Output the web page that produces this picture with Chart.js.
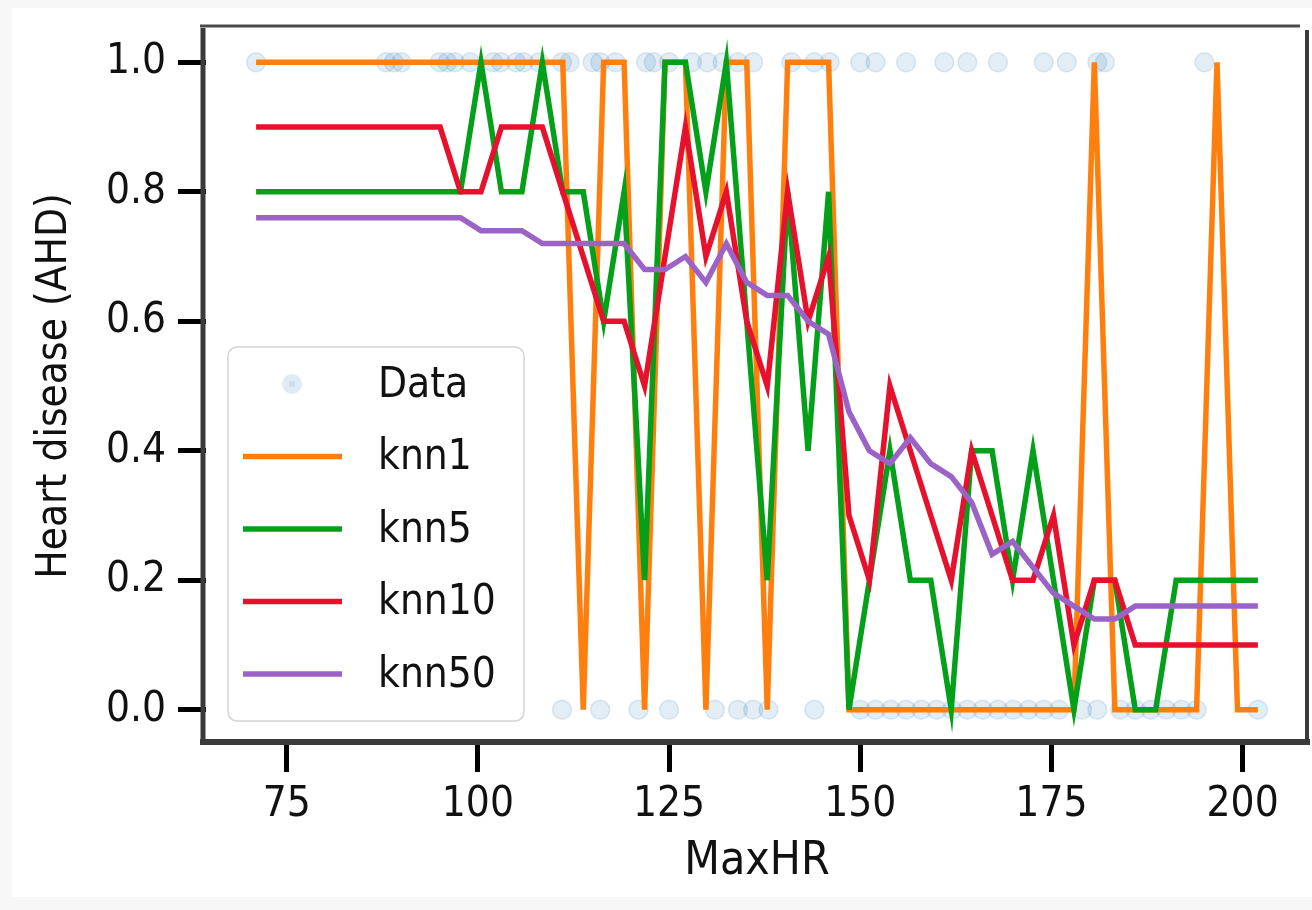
<!DOCTYPE html>
<html>
<head>
<meta charset="utf-8">
<script src="https://cdn.jsdelivr.net/npm/chart.js@4.4.1/dist/chart.umd.min.js"></script>
<style>
  html, body { margin: 0; padding: 0; background: #f7f7f7; }
  canvas { display: block; }
</style>
</head>
<body>
<canvas id="c" width="1312" height="910"></canvas>
<script>
// ---- data ----
const maxHR = [71.00, 73.67, 76.35, 79.02, 81.69, 84.37, 87.04, 89.71, 92.39, 95.06,
               97.73, 100.41, 103.08, 105.76, 108.43, 111.10, 113.78, 116.45, 119.12, 121.80,
               124.47, 127.14, 129.82, 132.49, 135.16, 137.84, 140.51, 143.18, 145.86, 148.53,
               151.20, 153.88, 156.55, 159.22, 161.90, 164.57, 167.24, 169.92, 172.59, 175.27,
               177.94, 180.61, 183.29, 185.96, 188.63, 191.31, 193.98, 196.65, 199.33, 202.00];
const knn1  = [1,1,1,1,1,1,1,1,1,1, 1,1,1,1,1,1,0,1,1,0, 1,1,0,1,1,0,1,1,1,0,
               0,0,0,0,0,0,0,0,0,0, 0,1,0,0,0,0,0,1,0,0];
const knn5  = [0.8,0.8,0.8,0.8,0.8,0.8,0.8,0.8,0.8,0.8, 0.8,1.0,0.8,0.8,1.0,0.8,0.8,0.6,0.8,0.2,
               1.0,1.0,0.8,1.0,0.6,0.2,0.8,0.4,0.8,0.0, 0.2,0.4,0.2,0.2,0.0,0.4,0.4,0.2,0.4,0.2,
               0.0,0.2,0.2,0.0,0.0,0.2,0.2,0.2,0.2,0.2];
const knn10 = [0.9,0.9,0.9,0.9,0.9,0.9,0.9,0.9,0.9,0.9, 0.8,0.8,0.9,0.9,0.9,0.8,0.7,0.6,0.6,0.5,
               0.7,0.9,0.7,0.8,0.6,0.5,0.8,0.6,0.7,0.3, 0.2,0.5,0.4,0.3,0.2,0.4,0.3,0.2,0.2,0.3,
               0.1,0.2,0.2,0.1,0.1,0.1,0.1,0.1,0.1,0.1];
const knn50 = [0.76,0.76,0.76,0.76,0.76,0.76,0.76,0.76,0.76,0.76, 0.76,0.74,0.74,0.74,0.72,0.72,0.72,0.72,0.72,0.68,
               0.68,0.70,0.66,0.72,0.66,0.64,0.64,0.60,0.58,0.46, 0.40,0.38,0.42,0.38,0.36,0.32,0.24,0.26,0.22,0.18,
               0.16,0.14,0.14,0.16,0.16,0.16,0.16,0.16,0.16,0.16];
const dataYesX = [71, 88, 89, 90, 95, 96, 97, 99, 102, 103, 105, 106, 108, 111, 112, 115, 116, 118,
                  122, 123, 125, 128, 130, 132, 134, 136, 141, 144, 146, 150, 152, 156, 161, 164,
                  168, 174, 177, 181, 182, 195];
const dataNoX  = [111, 116, 121, 125, 131, 134, 136, 138, 144, 150, 152, 154, 156, 158, 160, 162,
                  164, 166, 168, 170, 172, 174, 176, 179, 181, 184, 186, 188, 190, 192, 194, 202];
const xTicks = [75, 100, 125, 150, 175, 200];
const yTicks = [0.0, 0.2, 0.4, 0.6, 0.8, 1.0];
const seriesNames = ['Data', 'knn1', 'knn5', 'knn10', 'knn50'];

// ---- styles ----
const FONT = "'DejaVu Sans Condensed', 'DejaVu Sans', sans-serif";
const COLORS = { data: 'rgba(31,119,180,0.13)', knn1: '#ff7f0e', knn5: '#04a01a', knn10: '#e5112d', knn50: '#9b63c6' };

const dataPoints = dataYesX.map(x => ({ x: x, y: 1 })).concat(dataNoX.map(x => ({ x: x, y: 0 })));
const toPts = ys => maxHR.map((x, i) => ({ x: x, y: ys[i] }));

const lineDs = (label, ys, color, order) => ({
  label: label, data: toPts(ys), showLine: true, borderColor: color, backgroundColor: color,
  borderWidth: 5.5, pointRadius: 0, pointHoverRadius: 0, tension: 0, order: order,
  borderJoinStyle: 'miter', borderCapStyle: 'butt'
});

const bgPlugin = {
  id: 'bg',
  beforeDraw(chart) {
    const ctx = chart.ctx;
    ctx.save();
    ctx.fillStyle = '#f7f7f7';
    ctx.fillRect(0, 0, chart.width, chart.height);
    ctx.fillStyle = '#ffffff';
    ctx.fillRect(12, 8, chart.width - 12, 889);
    ctx.restore();
  }
};

const legendPlugin = {
  id: 'boxLegend',
  afterDatasetsDraw(chart) {
    const ctx = chart.ctx, ca = chart.chartArea;
    const bx = ca.left + 22, by = ca.top + 317, bw = 296, bh = 374;
    ctx.save();
    ctx.beginPath();
    ctx.roundRect(bx, by, bw, bh, 9);
    ctx.fillStyle = 'rgba(255,255,255,0.85)';
    ctx.fill();
    ctx.lineWidth = 1.5;
    ctx.strokeStyle = '#d4d4d4';
    ctx.stroke();
    ctx.font = '42px ' + FONT;
    ctx.textBaseline = 'middle';
    ctx.textAlign = 'left';
    chart.data.datasets.forEach((ds, k) => {
      const cy = by + 37 + k * 72.5;
      if (k === 0) {
        ctx.beginPath();
        ctx.arc(bx + 64, cy, 10, 0, Math.PI * 2);
        ctx.fillStyle = 'rgba(31,119,180,0.15)';
        ctx.fill();
        ctx.beginPath();
        ctx.arc(bx + 64, cy, 3, 0, Math.PI * 2);
        ctx.fillStyle = 'rgba(31,119,180,0.12)';
        ctx.fill();
      } else {
        ctx.beginPath();
        ctx.moveTo(bx + 15, cy);
        ctx.lineTo(bx + 114, cy);
        ctx.lineWidth = 5.5;
        ctx.strokeStyle = ds.borderColor;
        ctx.stroke();
      }
      ctx.fillStyle = '#111';
      ctx.fillText(ds.label, bx + 150, cy + 2);
    });
    ctx.restore();
  }
};

const framePlugin = {
  id: 'frame',
  afterDraw(chart) {
    const ctx = chart.ctx, ca = chart.chartArea;
    ctx.save();
    ctx.strokeStyle = '#3a3a3a';
    ctx.lineWidth = 5;
    ctx.beginPath(); ctx.moveTo(ca.left - 3, ca.top - 2); ctx.lineTo(ca.left - 3, ca.bottom); ctx.stroke();
    ctx.lineWidth = 6;
    ctx.beginPath(); ctx.moveTo(ca.left - 6, ca.bottom); ctx.lineTo(ca.right + 2, ca.bottom); ctx.stroke();
    ctx.lineWidth = 3;
    ctx.strokeStyle = '#4a4a4a';
    ctx.beginPath(); ctx.moveTo(ca.left - 6, ca.top - 4); ctx.lineTo(ca.right - 8, ca.top - 4); ctx.stroke();
    ctx.lineWidth = 4;
    ctx.strokeStyle = '#3a3a3a';
    ctx.beginPath(); ctx.moveTo(ca.right - 1, ca.top); ctx.lineTo(ca.right - 1, ca.bottom); ctx.stroke();
    ctx.restore();
  }
};

new Chart(document.getElementById('c'), {
  type: 'scatter',
  data: {
    datasets: [
      { label: seriesNames[0], data: dataPoints, pointRadius: 9.5, pointHoverRadius: 9.5,
        pointBackgroundColor: COLORS.data, pointBorderColor: 'rgba(31,119,180,0.14)', pointBorderWidth: 1.5,
        borderColor: COLORS.data, showLine: false, order: 5 },
      lineDs(seriesNames[1], knn1, COLORS.knn1, 4),
      lineDs(seriesNames[2], knn5, COLORS.knn5, 3),
      lineDs(seriesNames[3], knn10, COLORS.knn10, 2),
      lineDs(seriesNames[4], knn50, COLORS.knn50, 1)
    ]
  },
  options: {
    responsive: false,
    animation: false,
    devicePixelRatio: 1,
    layout: { autoPadding: false, padding: { left: 0, right: 4, top: 30, bottom: 0 } },
    plugins: { legend: { display: false }, tooltip: { enabled: false } },
    scales: {
      x: {
        type: 'linear', min: 64.45, max: 208.55,
        afterBuildTicks: s => { s.ticks = xTicks.map(v => ({ value: v })); },
        afterFit: s => { s.height = 168; s.paddingLeft = 0; s.paddingRight = 0; },
        border: { display: false },
        grid: { display: true, drawOnChartArea: false, drawTicks: true, tickLength: 30, tickWidth: 5, tickColor: '#000' },
        ticks: { color: '#111', padding: 8, font: { family: FONT, size: 42 }, callback: v => String(v) },
        title: { display: true, text: 'MaxHR', color: '#111', font: { family: FONT, size: 46 }, padding: { top: 0, bottom: 20 } }
      },
      y: {
        type: 'linear', min: -0.05, max: 1.05,
        afterBuildTicks: s => { s.ticks = yTicks.map(v => ({ value: v })); },
        afterFit: s => { s.width = 206; s.paddingTop = 0; s.paddingBottom = 0; },
        border: { display: false },
        grid: { display: true, drawOnChartArea: false, drawTicks: true, tickLength: 28, tickWidth: 5, tickColor: '#000' },
        ticks: { color: '#111', padding: 12, font: { family: FONT, size: 42 }, callback: v => Number(v).toFixed(1) },
        title: { display: true, text: 'Heart disease (AHD)', color: '#111', font: { family: FONT, size: 42 }, padding: { top: 30, bottom: 0 } }
      }
    }
  },
  plugins: [bgPlugin, legendPlugin, framePlugin]
});
</script>
</body>
</html>
